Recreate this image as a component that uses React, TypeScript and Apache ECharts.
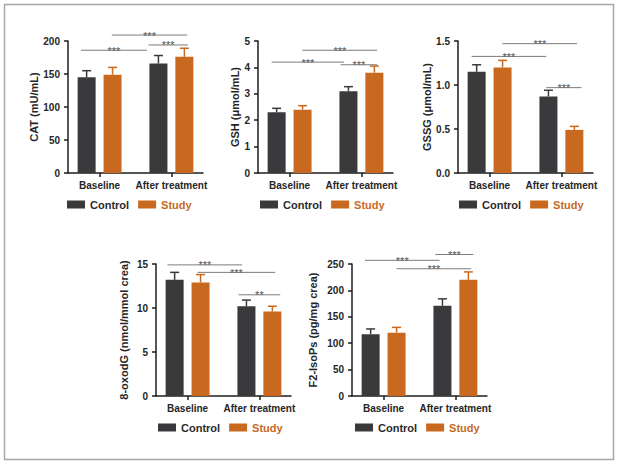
import React, { useEffect, useRef } from 'react';
import * as echarts from 'echarts';

// ---- data ----
const categories = ['Baseline', 'After treatment'];
const groups = ['Control', 'Study'];

const catControl = [145, 166];
const catControlSd = [10, 12];
const catStudy = [149, 176];
const catStudySd = [11, 13];
const catSig: [number, number, number, string][] = [
  [-0.26, 0.66, 186, '***'],
  [0.17, 1.22, 209, '***'],
  [0.68, 1.23, 194, '***'],
];

const gshControl = [2.3, 3.1];
const gshControlSd = [0.15, 0.17];
const gshStudy = [2.4, 3.8];
const gshStudySd = [0.15, 0.25];
const gshSig: [number, number, number, string][] = [
  [-0.25, 0.76, 4.2, '***'],
  [0.18, 1.22, 4.65, '***'],
  [0.71, 1.22, 4.1, '***'],
];

const gssgControl = [1.15, 0.87];
const gssgControlSd = [0.08, 0.07];
const gssgStudy = [1.2, 0.49];
const gssgStudySd = [0.08, 0.04];
const gssgSig: [number, number, number, string][] = [
  [-0.25, 0.79, 1.325, '***'],
  [0.18, 1.22, 1.47, '***'],
  [0.79, 1.28, 0.97, '***'],
];

const oxoControl = [13.2, 10.2];
const oxoControlSd = [0.85, 0.7];
const oxoStudy = [12.9, 9.6];
const oxoStudySd = [0.9, 0.6];
const oxoSig: [number, number, number, string][] = [
  [-0.28, 0.76, 14.9, '***'],
  [0.14, 1.22, 14.05, '***'],
  [0.71, 1.29, 11.5, '**'],
];

const isoControl = [117, 171];
const isoControlSd = [10, 13];
const isoStudy = [120, 220];
const isoStudySd = [10, 15];
const isoSig: [number, number, number, string][] = [
  [-0.26, 0.78, 257, '***'],
  [0.72, 1.25, 268, '***'],
  [0.18, 1.22, 241, '***'],
];

// ---- style / layout ----
const FONT = '"Liberation Sans", Arial, Helvetica, sans-serif';
const DARK = '#3a393b';
const ORANGE = '#c8691f';
const AXIS = '#1e1e1e';
const TEXT = '#262626';
const BAR_W = 18;
const GAP = 0.44;
const OFF = (BAR_W * (1 + GAP)) / 2;

const panels = [
  { name: 'CAT (mU/mL)', max: 200, interval: 50, dec: 0, ctrl: catControl, ctrlSd: catControlSd, study: catStudy, studySd: catStudySd, sig: catSig, left: 68, top: 41, nameGap: 24.5, legLeft: 67, legTop: 199 },
  { name: 'GSH (μmol/mL)', max: 5, interval: 1, dec: 0, ctrl: gshControl, ctrlSd: gshControlSd, study: gshStudy, studySd: gshStudySd, sig: gshSig, left: 258, top: 41, nameGap: 15.5, legLeft: 260, legTop: 199 },
  { name: 'GSSG (μmol/mL)', max: 1.5, interval: 0.5, dec: 1, ctrl: gssgControl, ctrlSd: gssgControlSd, study: gssgStudy, studySd: gssgStudySd, sig: gssgSig, left: 458, top: 41, nameGap: 17.5, legLeft: 459, legTop: 199 },
  { name: '8-oxodG (nmol/mmol crea)', max: 15, interval: 5, dec: 0, ctrl: oxoControl, ctrlSd: oxoControlSd, study: oxoStudy, studySd: oxoStudySd, sig: oxoSig, left: 156, top: 264, nameGap: 26.5, legLeft: 158, legTop: 422 },
  { name: 'F2-IsoPs (pg/mg crea)', max: 250, interval: 50, dec: 0, ctrl: isoControl, ctrlSd: isoControlSd, study: isoStudy, studySd: isoStudySd, sig: isoSig, left: 352, top: 264, nameGap: 33.5, legLeft: 355, legTop: 422 },
];

export default function App() {
  const ref = useRef<HTMLDivElement>(null);
  useEffect(() => {
    if (!ref.current) return;
    const chart = echarts.init(ref.current, null, { renderer: 'svg' });

    const grid = panels.map((p) => ({ left: p.left, top: p.top, width: 135, height: 132 }));
    const xAxis = panels.map((p, i) => ({
      type: 'value',
      gridIndex: i,
      min: -0.44,
      max: 1.44,
      axisLine: { show: true, onZero: false, lineStyle: { color: AXIS, width: 1.5 } },
      axisTick: { show: true, customValues: [0, 1], length: 4, lineStyle: { color: AXIS, width: 1.5 } },
      axisLabel: {
        customValues: [0, 1],
        formatter: (v: number) => categories[Math.round(v)],
        margin: 7,
        fontSize: 10,
        fontWeight: 'bold',
        color: TEXT,
        fontFamily: FONT,
      },
      splitLine: { show: false },
    }));
    const yAxis = panels.map((p, i) => ({
      type: 'value',
      gridIndex: i,
      min: 0,
      max: p.max,
      interval: p.interval,
      name: p.name,
      nameLocation: 'middle',
      nameGap: p.nameGap,
      nameTextStyle: { fontSize: 11, fontWeight: 'bold', color: TEXT, fontFamily: FONT },
      axisLine: { show: true, onZero: false, lineStyle: { color: AXIS, width: 1.5 } },
      axisTick: { show: true, length: 4, lineStyle: { color: AXIS, width: 1.5 } },
      axisLabel: {
        margin: 8,
        fontSize: 10,
        fontWeight: 'bold',
        color: TEXT,
        fontFamily: FONT,
        formatter: (v: number) => v.toFixed(p.dec),
      },
      splitLine: { show: false },
    }));

    const series: any[] = [];
    panels.forEach((p, i) => {
      const means = [p.ctrl, p.study];
      const sds = [p.ctrlSd, p.studySd];
      groups.forEach((g, gi) => {
        series.push({
          type: 'bar',
          name: g,
          xAxisIndex: i,
          yAxisIndex: i,
          barWidth: BAR_W,
          barGap: GAP * 100 + '%',
          itemStyle: { color: gi === 0 ? DARK : ORANGE },
          data: categories.map((_, k) => [k, means[gi][k]]),
        });
      });
      const errData: number[][] = [];
      groups.forEach((_, gi) => categories.forEach((__, k) => errData.push([k, means[gi][k], sds[gi][k], gi])));
      series.push({
        type: 'custom',
        name: 'err' + i,
        xAxisIndex: i,
        yAxisIndex: i,
        z: 3,
        encode: { x: 0, y: 1 },
        data: errData,
        renderItem: (params: any, api: any) => {
          const x = api.value(0);
          const m = api.value(1);
          const s = api.value(2);
          const gi = api.value(3);
          const base = api.coord([x, m]);
          const top = api.coord([x, m + s]);
          const cx = base[0] + (gi === 0 ? -OFF : OFF);
          const color = gi === 0 ? DARK : ORANGE;
          return {
            type: 'group',
            children: [
              { type: 'line', shape: { x1: cx, y1: base[1], x2: cx, y2: top[1] }, style: { stroke: color, lineWidth: 1.5 } },
              { type: 'line', shape: { x1: cx - 4.5, y1: top[1], x2: cx + 4.5, y2: top[1] }, style: { stroke: color, lineWidth: 1.5 } },
            ],
          };
        },
      });
      series.push({
        type: 'custom',
        name: 'sig' + i,
        xAxisIndex: i,
        yAxisIndex: i,
        z: 4,
        clip: false,
        encode: { x: [0, 1], y: 2 },
        data: p.sig.map((r) => [r[0], r[1], r[2]]),
        renderItem: (params: any, api: any) => {
          const a = api.coord([api.value(0), api.value(2)]);
          const b = api.coord([api.value(1), api.value(2)]);
          const label = p.sig[params.dataIndex][3];
          return {
            type: 'group',
            children: [
              { type: 'line', shape: { x1: a[0], y1: a[1], x2: b[0], y2: b[1] }, style: { stroke: '#7c7c7c', lineWidth: 1 } },
              {
                type: 'text',
                x: (a[0] + b[0]) / 2,
                y: a[1] + 0.5,
                style: { text: label, fontSize: 11, fontWeight: 'normal', fill: '#555', fontFamily: FONT, align: 'center', verticalAlign: 'middle' },
              },
            ],
          };
        },
      });
    });

    const legend = panels.map((p) => ({
      left: p.legLeft,
      top: p.legTop,
      padding: 0,
      itemWidth: 18,
      itemHeight: 8,
      itemGap: 9,
      icon: 'rect',
      selectedMode: false,
      textStyle: { fontSize: 11, fontWeight: 'bold', fontFamily: FONT },
      data: [
        { name: 'Control', textStyle: { color: '#2b2b2b' } },
        { name: 'Study', textStyle: { color: ORANGE } },
      ],
    }));

    chart.setOption({
      animation: false,
      backgroundColor: '#ffffff',
      textStyle: { fontFamily: FONT },
      grid,
      xAxis,
      yAxis,
      legend,
      series,
      graphic: [
        {
          type: 'rect',
          shape: { x: 4.5, y: 4.5, width: 609, height: 455 },
          style: { fill: 'none', stroke: '#a8a8a8', lineWidth: 1.5 },
          silent: true,
        },
      ],
    });
    return () => chart.dispose();
  }, []);
  return <div ref={ref} style={{ position: 'absolute', left: 0, top: 0, width: 617, height: 465 }} />;
}
